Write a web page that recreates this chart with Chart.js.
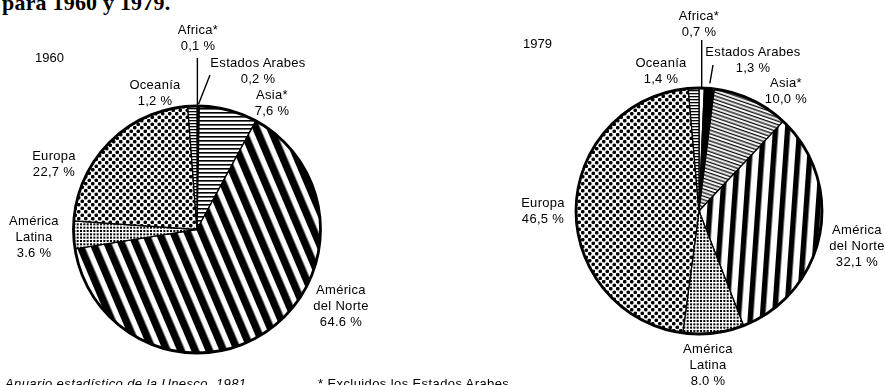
<!DOCTYPE html>
<html lang="es">
<head>
<meta charset="utf-8">
<script src="https://cdn.jsdelivr.net/npm/chart.js@4.4.1/dist/chart.umd.min.js"></script>
<style>
  html, body { margin: 0; padding: 0; background: #fff; }
  #wrap { position: relative; width: 885px; height: 385px; overflow: hidden;
          font-family: "Liberation Sans", Arial, Helvetica, sans-serif; color: #000; }
  #wrap canvas { position: absolute; left: 0; top: 0; }
  .lbl { position: absolute; font-size: 13px; line-height: 16px; white-space: nowrap;
         text-align: center; transform: translate(-50%, -50%); letter-spacing: 0.3px; }
  .year { position: absolute; font-size: 13px; line-height: 16px; transform: translateY(-50%); }
  #title { position: absolute; left: 2px; top: -8px; font-family: "Liberation Serif", "Times New Roman", serif;
           font-weight: bold; font-size: 22px; line-height: 22px; letter-spacing: 0.2px; white-space: nowrap; }
  .foot { position: absolute; top: 376px; font-size: 13px; line-height: 16px; white-space: nowrap; letter-spacing: 0.4px; }
</style>
</head>
<body>
<div id="wrap">
  <div id="title">para 1960 y 1979.</div>
  <canvas id="pie1960" width="885" height="385"></canvas>
  <canvas id="pie1979" width="885" height="385"></canvas>
  <div id="labels"></div>
  <div class="foot" style="left:5px;font-style:italic;">Anuario estadístico de la Unesco, 1981</div>
  <div class="foot" style="left:318px;">* Excluidos los Estados Arabes</div>
</div>
<script>
// Regions in clockwise order starting at 12 o'clock
const regions = ['Africa', 'Estados Arabes', 'Asia', 'América del Norte', 'América Latina', 'Europa', 'Oceanía'];
const regionLines = [['Africa*'], ['Estados Arabes'], ['Asia*'], ['América', 'del Norte'], ['América', 'Latina'], ['Europa'], ['Oceanía']];

// Share of the world total, in percent
const share1960 = [0.1, 0.2, 7.6, 64.6, 3.6, 22.7, 1.2];
const share1979 = [0.7, 1.3, 10.0, 32.1, 8.0, 46.5, 1.4];

// Decimal mark printed with each value
const decimalMark1960 = [',', ',', ',', '.', '.', ',', ','];
const decimalMark1979 = [',', ',', ',', ',', '.', ',', ','];

const years = ['1960', '1979'];

function fmt(v, mark) {
  return v.toFixed(1).replace('.', mark) + ' %';
}

// ---- fill patterns -------------------------------------------------------
function makeTile(w, h, draw) {
  const c = document.createElement('canvas');
  c.width = w; c.height = h;
  const g = c.getContext('2d');
  g.fillStyle = '#fff'; g.fillRect(0, 0, w, h);
  g.fillStyle = '#000';
  draw(g, w, h);
  return c;
}
function makePattern(ctx, tile, angle) {
  const p = ctx.createPattern(tile, 'repeat');
  if (angle) p.setTransform(new DOMMatrix().rotate(angle));
  return p;
}
const tiles = {
  bigDots: makeTile(7, 7, g => {
    [[1.75, 1.75], [5.25, 5.25]].forEach(([x, y]) => { g.beginPath(); g.arc(x, y, 1.85, 0, Math.PI * 2); g.fill(); });
  }),
  fineGrid: makeTile(10, 10, g => {
    for (let i = 0; i < 3; i++) for (let j = 0; j < 3; j++) g.fillRect(i * 10 / 3, j * 10 / 3, 2.0, 2.0);
  }),
  hLines4: makeTile(8, 4, g => g.fillRect(0, 0, 8, 1.6)),
  hLines3: makeTile(6, 3, g => g.fillRect(0, 0, 6, 1.3)),
  hLinesFine: makeTile(17, 17, g => { for (let i = 0; i < 5; i++) g.fillRect(0, i * 3.4, 17, 1.3); }),
  wideStripes13: makeTile(13, 13, g => g.fillRect(0, 0, 7.5, 13)),
  wideStripes12: makeTile(12, 12, g => g.fillRect(0, 0, 5.5, 12))
};

function fills1960(ctx) {
  return [
    '#ffffff',
    '#000000',
    makePattern(ctx, tiles.hLines4, 0),
    makePattern(ctx, tiles.wideStripes13, -23),
    makePattern(ctx, tiles.fineGrid, 0),
    makePattern(ctx, tiles.bigDots, 0),
    makePattern(ctx, tiles.hLines3, 0)
  ];
}
function fills1979(ctx) {
  return [
    '#ffffff',
    '#000000',
    makePattern(ctx, tiles.hLinesFine, 19),
    makePattern(ctx, tiles.wideStripes12, 4),
    makePattern(ctx, tiles.fineGrid, 0),
    makePattern(ctx, tiles.bigDots, 0),
    makePattern(ctx, tiles.hLines3, 0)
  ];
}

// ---- rim and leader lines ------------------------------------------------
const rimAndLeaders = {
  id: 'rimAndLeaders',
  afterDatasetsDraw(chart, args, opts) {
    const arcs = chart.getDatasetMeta(0).data;
    if (!arcs.length) return;
    const { x, y, outerRadius } = arcs[0];
    const ctx = chart.ctx;
    ctx.save();
    ctx.strokeStyle = '#000';
    ctx.lineWidth = 2.8;
    ctx.beginPath();
    ctx.arc(x, y, outerRadius, 0, Math.PI * 2);
    ctx.stroke();
    ctx.lineWidth = 1.4;
    (opts.leaders || []).forEach(l => {
      const a = arcs[l.index];
      const mid = (a.startAngle + a.endAngle) / 2;
      const r = outerRadius + (l.gap || 0);
      const sx = x + Math.cos(mid) * r;
      const sy = y + Math.sin(mid) * r;
      const ex = l.vertical ? sx : l.to[0];
      ctx.beginPath();
      ctx.moveTo(sx, sy);
      ctx.lineTo(ex, l.to[1]);
      ctx.stroke();
    });
    ctx.restore();
  }
};

function makePie(canvasId, values, fillsFor, padding, radius, leaders) {
  const canvas = document.getElementById(canvasId);
  const ctx = canvas.getContext('2d');
  return new Chart(ctx, {
    type: 'pie',
    data: {
      labels: regions,
      datasets: [{
        data: values,
        backgroundColor: fillsFor(ctx),
        borderColor: '#000',
        borderWidth: 1.3,
        borderJoinStyle: 'miter'
      }]
    },
    options: {
      responsive: false,
      animation: false,
      radius: radius,
      rotation: 0,
      layout: { padding: padding },
      plugins: {
        legend: { display: false },
        tooltip: { enabled: false },
        rimAndLeaders: { leaders: leaders }
      }
    },
    plugins: [rimAndLeaders]
  });
}

makePie('pie1960', share1960, fills1960, { left: 0, top: 74, right: 491, bottom: 0 }, 123.5,
  [{ index: 0, vertical: true, to: [0, 58] }, { index: 1, gap: 2, to: [210, 75] }]);
makePie('pie1979', share1979, fills1979, { left: 513, top: 37, right: 0, bottom: 0 }, 123,
  [{ index: 0, vertical: true, to: [0, 40] }, { index: 1, gap: 5, to: [713, 65] }]);

// ---- text labels ---------------------------------------------------------
// label anchor (centre x, centre y of first line) for each region, per year
const anchors1960 = [[198, 30], [258, 63], [272, 95], [341, 290], [34, 221], [54, 156], [155, 85]];
const anchors1979 = [[699, 16], [753, 52], [786, 83], [857, 230], [708, 349], [543, 203], [661, 63]];
const lineStep = 15.8;

const layer = document.getElementById('labels');
function addText(cls, text, x, y) {
  const d = document.createElement('div');
  d.className = cls;
  d.textContent = text;
  d.style.left = x + 'px';
  d.style.top = y + 'px';
  layer.appendChild(d);
}
function addLabels(values, marks, anchors) {
  values.forEach((v, i) => {
    const [cx, cy] = anchors[i];
    const lines = regionLines[i].concat([fmt(v, marks[i])]);
    lines.forEach((t, k) => addText('lbl', t, cx, cy + k * lineStep));
  });
}
addLabels(share1960, decimalMark1960, anchors1960);
addLabels(share1979, decimalMark1979, anchors1979);
addText('year', years[0], 35, 58);
addText('year', years[1], 523, 44);
</script>
</body>
</html>
